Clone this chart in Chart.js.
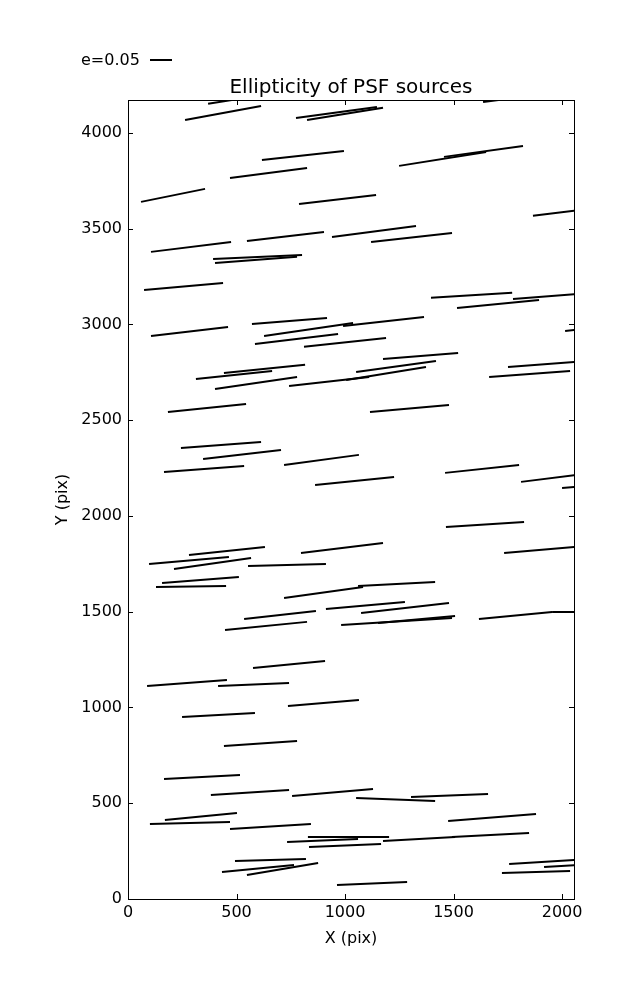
<!DOCTYPE html>
<html>
<head>
<meta charset="utf-8">
<script src="https://cdn.jsdelivr.net/npm/chart.js@4/dist/chart.umd.min.js"></script>
<style>
  html, body { margin: 0; padding: 0; background: #fff; }
  #wrap { width: 637px; height: 1000px; }
</style>
</head>
<body>
<div id="wrap"><canvas id="chart" width="637" height="1000"></canvas></div>
<script>
// whisker end points, in pixels of the detector
const x1 = [369, 263, 774, 825, 1636, 617, 470, 60, 788, 1249, 1456, 1866, 940, 548, 1120, 106, 392, 401, 74,
  1396, 1774, 1516, 106, 571, 627, 991, 585, 811, 442, 313, 401, 742, 1175, 1051, 1005, 184, 244, 346, 166,
  719, 862, 2014, 1751, 1664, 1115, 1461, 1811, 2000, 281, 97, 212, 553, 157, 129, 797, 719, 1060, 912, 982,
  1152, 1074, 535, 447, 1465, 1733, 1617, 1954, 576, 88, 415, 249, 737, 442, 166, 382, 756, 170, 101, 470,
  829, 733, 834, 493, 433, 548, 963, 1051, 1304, 1475, 1175, 1493, 1756, 1917, 1723];
const y1 = [4152, 4068, 4078, 4068, 4162, 3859, 3765, 3640, 3629, 3828, 3875, 3567, 3457, 3436, 3431, 3379, 3342, 3321, 3180,
  3139, 3133, 3086, 2940, 3003, 2940, 2992, 2898, 2883, 2747, 2715, 2663, 2679, 2820, 2752, 2710, 2543, 2355, 2298, 2230,
  2266, 2162, 2966, 2778, 2726, 2543, 2225, 2178, 2146, 1796, 1749, 1723, 1739, 1650, 1629, 1807, 1572, 1634, 1514, 1431,
  1441, 1493, 1462, 1405, 1943, 1807, 1462, 1499, 1206, 1112, 1112, 950, 1008, 799, 627, 543, 538, 413, 392, 366,
  324, 298, 272, 198, 141, 125, 73, 527, 533, 407, 303, 324, 183, 167, 136];
const x2 = [737, 613, 1147, 1175, 2004, 995, 825, 355, 1143, 1650, 1820, 2235, 1327, 903, 1493, 475, 802, 779, 438,
  1770, 2143, 1894, 461, 917, 1037, 1364, 968, 1189, 816, 664, 779, 1111, 1521, 1419, 1373, 544, 613, 705, 535,
  1064, 1226, 2382, 2120, 2037, 1479, 1802, 2180, 2369, 631, 465, 567, 912, 511, 452, 1175, 1083, 1415, 1276, 1493,
  1507, 1479, 866, 825, 1825, 2101, 1954, 2323, 908, 456, 742, 585, 1064, 779, 516, 742, 1129, 502, 470, 843,
  1203, 1060, 1166, 820, 765, 876, 1286, 1415, 1659, 1880, 1507, 1848, 2124, 2286, 2037];
const y2 = [4219, 4141, 4136, 4131, 4214, 3906, 3817, 3708, 3676, 3901, 3932, 3619, 3514, 3483, 3478, 3431, 3363, 3353, 3217,
  3165, 3165, 3128, 2987, 3034, 3008, 3039, 2950, 2929, 2789, 2757, 2726, 2726, 2851, 2809, 2778, 2585, 2386, 2344, 2261,
  2319, 2204, 3013, 2810, 2757, 2580, 2266, 2230, 2178, 1838, 1786, 1781, 1749, 1681, 1634, 1859, 1629, 1655, 1551, 1467,
  1478, 1546, 1504, 1447, 1969, 1843, 1499, 1499, 1243, 1144, 1128, 971, 1039, 825, 648, 569, 574, 449, 402, 392,
  324, 313, 287, 209, 178, 188, 89, 512, 548, 444, 324, 345, 209, 193, 146];

const xTicks = [0, 500, 1000, 1500, 2000];
const yTicks = [0, 500, 1000, 1500, 2000, 2500, 3000, 3500, 4000];
const chartTitle = 'Ellipticity of PSF sources';
const keyLabel = 'e=0.05';

const FONT = 'DejaVu Sans';

const datasets = x1.map((x, i) => ({
    data: [{x: x, y: y1[i]}, {x: x2[i], y: y2[i]}],
    showLine: true,
    borderColor: '#000',
    borderWidth: 2,
    pointRadius: 0,
    borderCapStyle: 'butt'
}));

// frame, inward ticks on all sides, title and the scale key
const decorations = {
    id: 'decorations',
    afterDraw(chart) {
        const ctx = chart.ctx;
        const a = chart.chartArea;
        const xs = chart.scales.x, ys = chart.scales.y;
        const tl = 5;
        ctx.save();
        ctx.strokeStyle = '#000';
        ctx.lineWidth = 1;
        ctx.strokeRect(a.left + 0.5, a.top + 0.5, a.right - a.left, a.bottom - a.top);
        ctx.beginPath();
        xTicks.forEach(v => {
            const px = Math.round(xs.getPixelForValue(v)) + 0.5;
            ctx.moveTo(px, a.bottom); ctx.lineTo(px, a.bottom - tl);
            ctx.moveTo(px, a.top); ctx.lineTo(px, a.top + tl);
        });
        yTicks.forEach(v => {
            const py = Math.round(ys.getPixelForValue(v)) + 0.5;
            ctx.moveTo(a.left, py); ctx.lineTo(a.left + tl, py);
            ctx.moveTo(a.right, py); ctx.lineTo(a.right - tl, py);
        });
        ctx.stroke();

        ctx.fillStyle = '#000';
        ctx.font = '20px "' + FONT + '"';
        ctx.textAlign = 'center';
        ctx.textBaseline = 'alphabetic';
        ctx.fillText(chartTitle, (a.left + a.right) / 2, 93);

        ctx.font = '16px "' + FONT + '"';
        ctx.textAlign = 'left';
        ctx.fillText(keyLabel, 81, 65);
        ctx.lineWidth = 2;
        ctx.beginPath();
        ctx.moveTo(150, 60);
        ctx.lineTo(172, 60);
        ctx.stroke();
        ctx.restore();
    }
};

new Chart(document.getElementById('chart'), {
    type: 'scatter',
    data: { datasets: datasets },
    options: {
        responsive: false,
        animation: false,
        layout: { padding: { left: 0, top: 100, right: 63, bottom: 0 } },
        plugins: { legend: { display: false }, tooltip: { enabled: false } },
        scales: {
            x: {
                type: 'linear',
                min: 0,
                max: 2055,
                afterBuildTicks: (scale) => { scale.ticks = xTicks.map(v => ({value: v})); },
                afterFit: (scale) => { scale.height = 101; },
                grid: { display: false, drawTicks: false },
                border: { display: false },
                ticks: {
                    color: '#000', padding: 4, maxRotation: 0,
                    font: { family: FONT, size: 16 },
                    callback: (v) => String(v)
                },
                title: {
                    display: true, text: 'X (pix)', color: '#000',
                    padding: { top: 0, bottom: 52 },
                    font: { family: FONT, size: 16 }
                }
            },
            y: {
                type: 'linear',
                min: 0,
                max: 4172,
                afterBuildTicks: (scale) => { scale.ticks = yTicks.map(v => ({value: v})); },
                afterFit: (scale) => { scale.width = 128; },
                grid: { display: false, drawTicks: false },
                border: { display: false },
                ticks: {
                    color: '#000', padding: 6,
                    font: { family: FONT, size: 16 },
                    callback: (v) => String(v)
                },
                title: {
                    display: true, text: 'Y (pix)', color: '#000',
                    padding: { top: 53, bottom: 0 },
                    font: { family: FONT, size: 16 }
                }
            }
        }
    },
    plugins: [decorations]
});
</script>
</body>
</html>
